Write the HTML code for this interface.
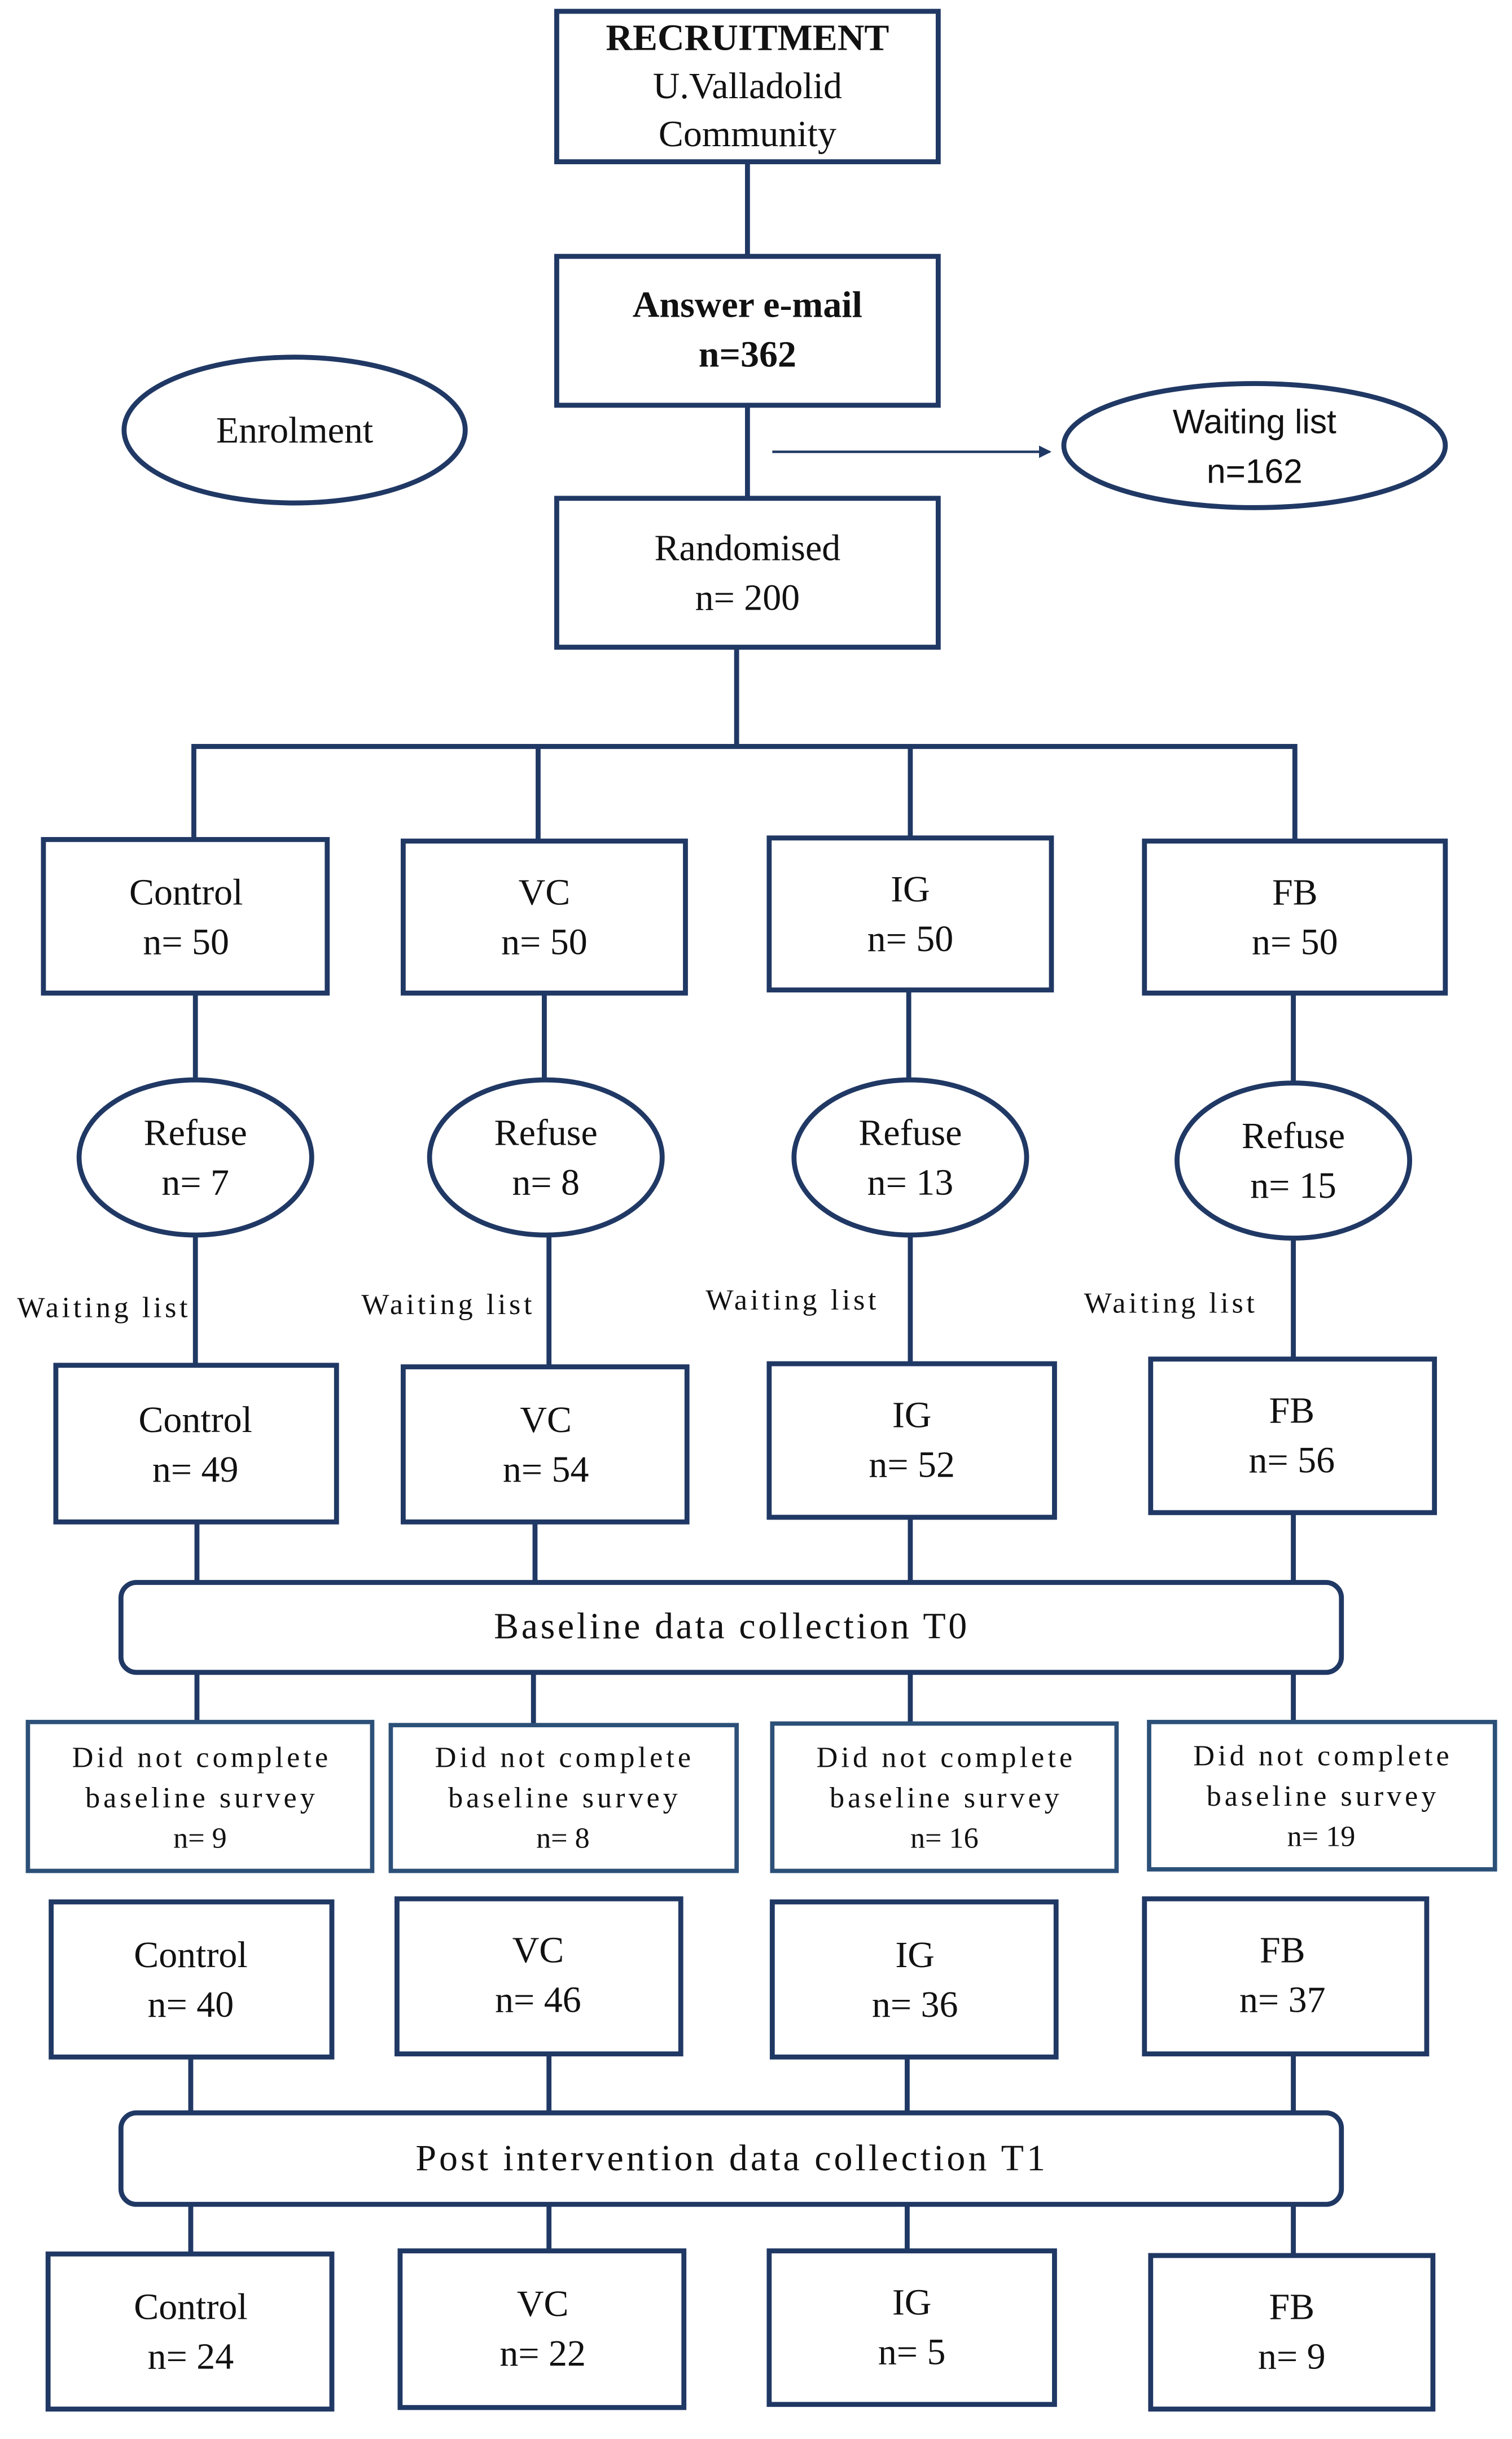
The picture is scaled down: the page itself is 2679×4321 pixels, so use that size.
<!DOCTYPE html>
<html><head><meta charset="utf-8"><style>
html,body{margin:0;padding:0;background:#fff;}
svg{display:block;}
text{font-family:"Liberation Serif",serif;fill:#111;text-anchor:middle;}
.s{font-family:"Liberation Sans",sans-serif;}
</style></head><body>
<svg width="2679" height="4321" viewBox="0 0 975 1572" xmlns="http://www.w3.org/2000/svg">
<defs><marker id="a" markerWidth="8" markerHeight="8" refX="7" refY="4" orient="auto" markerUnits="userSpaceOnUse"><path d="M0,0 L8,4 L0,8 z" fill="#203864"/></marker></defs>
<g fill="none" stroke="#203864" stroke-width="3.2">
<rect x="359" y="7" width="246" height="97"/>
<line x1="482" y1="104" x2="482" y2="165"/>
<rect x="359" y="165" width="246" height="96"/>
<line x1="482" y1="261" x2="482" y2="321"/>
<rect x="359" y="321" width="246" height="96"/>
<line x1="498" y1="291" x2="677" y2="291" stroke-width="1.6" marker-end="url(#a)"/>
<ellipse cx="809" cy="287" rx="123" ry="40"/>
<ellipse cx="190" cy="277" rx="110" ry="47"/>
<path d="M475 417V481M125 541V481H835V541M347 481V541M587 481V541"/>
<rect x="28" y="541" width="183" height="99"/>
<rect x="260" y="542" width="182" height="98"/>
<rect x="496" y="540" width="182" height="98"/>
<rect x="738" y="542" width="194" height="98"/>
<path d="M126 640V696M351 640V696M586 638V696M834 640V698"/>
<ellipse cx="126" cy="746" rx="75" ry="50"/>
<ellipse cx="352" cy="746" rx="75" ry="50"/>
<ellipse cx="587" cy="746" rx="75" ry="50"/>
<ellipse cx="834" cy="748" rx="75" ry="50"/>
<path d="M126 796V880M354 796V881M587 796V879M834 798V876"/>
<rect x="36" y="880" width="181" height="101"/>
<rect x="260" y="881" width="183" height="100"/>
<rect x="496" y="879" width="184" height="99"/>
<rect x="742" y="876" width="183" height="99"/>
<path d="M127 981V1020M345 981V1020M587 978V1020M834 975V1020"/>
<rect x="78" y="1020" width="787" height="58" rx="10"/>
<path d="M127 1078V1110M344 1078V1112M587 1078V1111M834 1078V1110"/>
<g stroke="#2c5078" stroke-width="2.8">
<rect x="18" y="1110" width="222" height="96"/>
<rect x="252" y="1112" width="223" height="94"/>
<rect x="498" y="1111" width="222" height="95"/>
<rect x="741" y="1110" width="223" height="95"/>
</g>
<rect x="33" y="1226" width="181" height="100"/>
<rect x="256" y="1224" width="183" height="100"/>
<rect x="498" y="1226" width="183" height="100"/>
<rect x="738" y="1224" width="182" height="100"/>
<path d="M123 1326V1362M354 1324V1362M585 1326V1362M834 1324V1362"/>
<rect x="78" y="1362" width="787" height="59" rx="10"/>
<path d="M123 1421V1453M354 1421V1451M585 1421V1451M834 1421V1454"/>
<rect x="31" y="1453" width="183" height="100"/>
<rect x="258" y="1451" width="183" height="101"/>
<rect x="496" y="1451" width="184" height="99"/>
<rect x="742" y="1454" width="182" height="99"/>
</g>
<g font-size="24">
<text x="482" y="32" font-weight="bold">RECRUITMENT</text>
<text x="482" y="63">U.Valladolid</text>
<text x="482" y="94">Community</text>
<text x="482" y="204" font-weight="bold">Answer e-mail</text>
<text x="482" y="236" font-weight="bold">n=362</text>
<text x="482" y="361">Randomised</text>
<text x="482" y="393">n= 200</text>
<text x="190" y="285">Enrolment</text>
<text class="s" x="809" y="279" font-size="22">Waiting list</text>
<text class="s" x="809" y="311" font-size="22">n=162</text>
<text x="120" y="583">Control</text><text x="120" y="615">n= 50</text>
<text x="351" y="583">VC</text><text x="351" y="615">n= 50</text>
<text x="587" y="581">IG</text><text x="587" y="613">n= 50</text>
<text x="835" y="583">FB</text><text x="835" y="615">n= 50</text>
<text x="126" y="738">Refuse</text><text x="126" y="770">n= 7</text>
<text x="352" y="738">Refuse</text><text x="352" y="770">n= 8</text>
<text x="587" y="738">Refuse</text><text x="587" y="770">n= 13</text>
<text x="834" y="740">Refuse</text><text x="834" y="772">n= 15</text>
<text x="126" y="923">Control</text><text x="126" y="955">n= 49</text>
<text x="352" y="923">VC</text><text x="352" y="955">n= 54</text>
<text x="588" y="920">IG</text><text x="588" y="952">n= 52</text>
<text x="833" y="917">FB</text><text x="833" y="949">n= 56</text>
<text x="471" y="1056" textLength="305">Baseline data collection  T0</text>
<text x="123" y="1268">Control</text><text x="123" y="1300">n= 40</text>
<text x="347" y="1265">VC</text><text x="347" y="1297">n= 46</text>
<text x="590" y="1268">IG</text><text x="590" y="1300">n= 36</text>
<text x="827" y="1265">FB</text><text x="827" y="1297">n= 37</text>
<text x="471" y="1399" textLength="406">Post intervention data collection  T1</text>
<text x="123" y="1495">Control</text><text x="123" y="1527">n= 24</text>
<text x="350" y="1493">VC</text><text x="350" y="1525">n= 22</text>
<text x="588" y="1492">IG</text><text x="588" y="1524">n= 5</text>
<text x="833" y="1495">FB</text><text x="833" y="1527">n= 9</text>
</g>
<g font-size="19">
<text x="66" y="849" textLength="110">Waiting  list</text>
<text x="288" y="847" textLength="110">Waiting  list</text>
<text x="510" y="844" textLength="110">Waiting  list</text>
<text x="754" y="846" textLength="110">Waiting  list</text>
<text x="129" y="1139" textLength="165">Did not complete</text><text x="129" y="1165" textLength="148">baseline  survey</text><text x="129" y="1191">n= 9</text>
<text x="363" y="1139" textLength="165">Did not complete</text><text x="363" y="1165" textLength="148">baseline  survey</text><text x="363" y="1191">n= 8</text>
<text x="609" y="1139" textLength="165">Did not complete</text><text x="609" y="1165" textLength="148">baseline  survey</text><text x="609" y="1191">n= 16</text>
<text x="852" y="1138" textLength="165">Did not complete</text><text x="852" y="1164" textLength="148">baseline  survey</text><text x="852" y="1190">n= 19</text>
</g>
</svg>
</body></html>
